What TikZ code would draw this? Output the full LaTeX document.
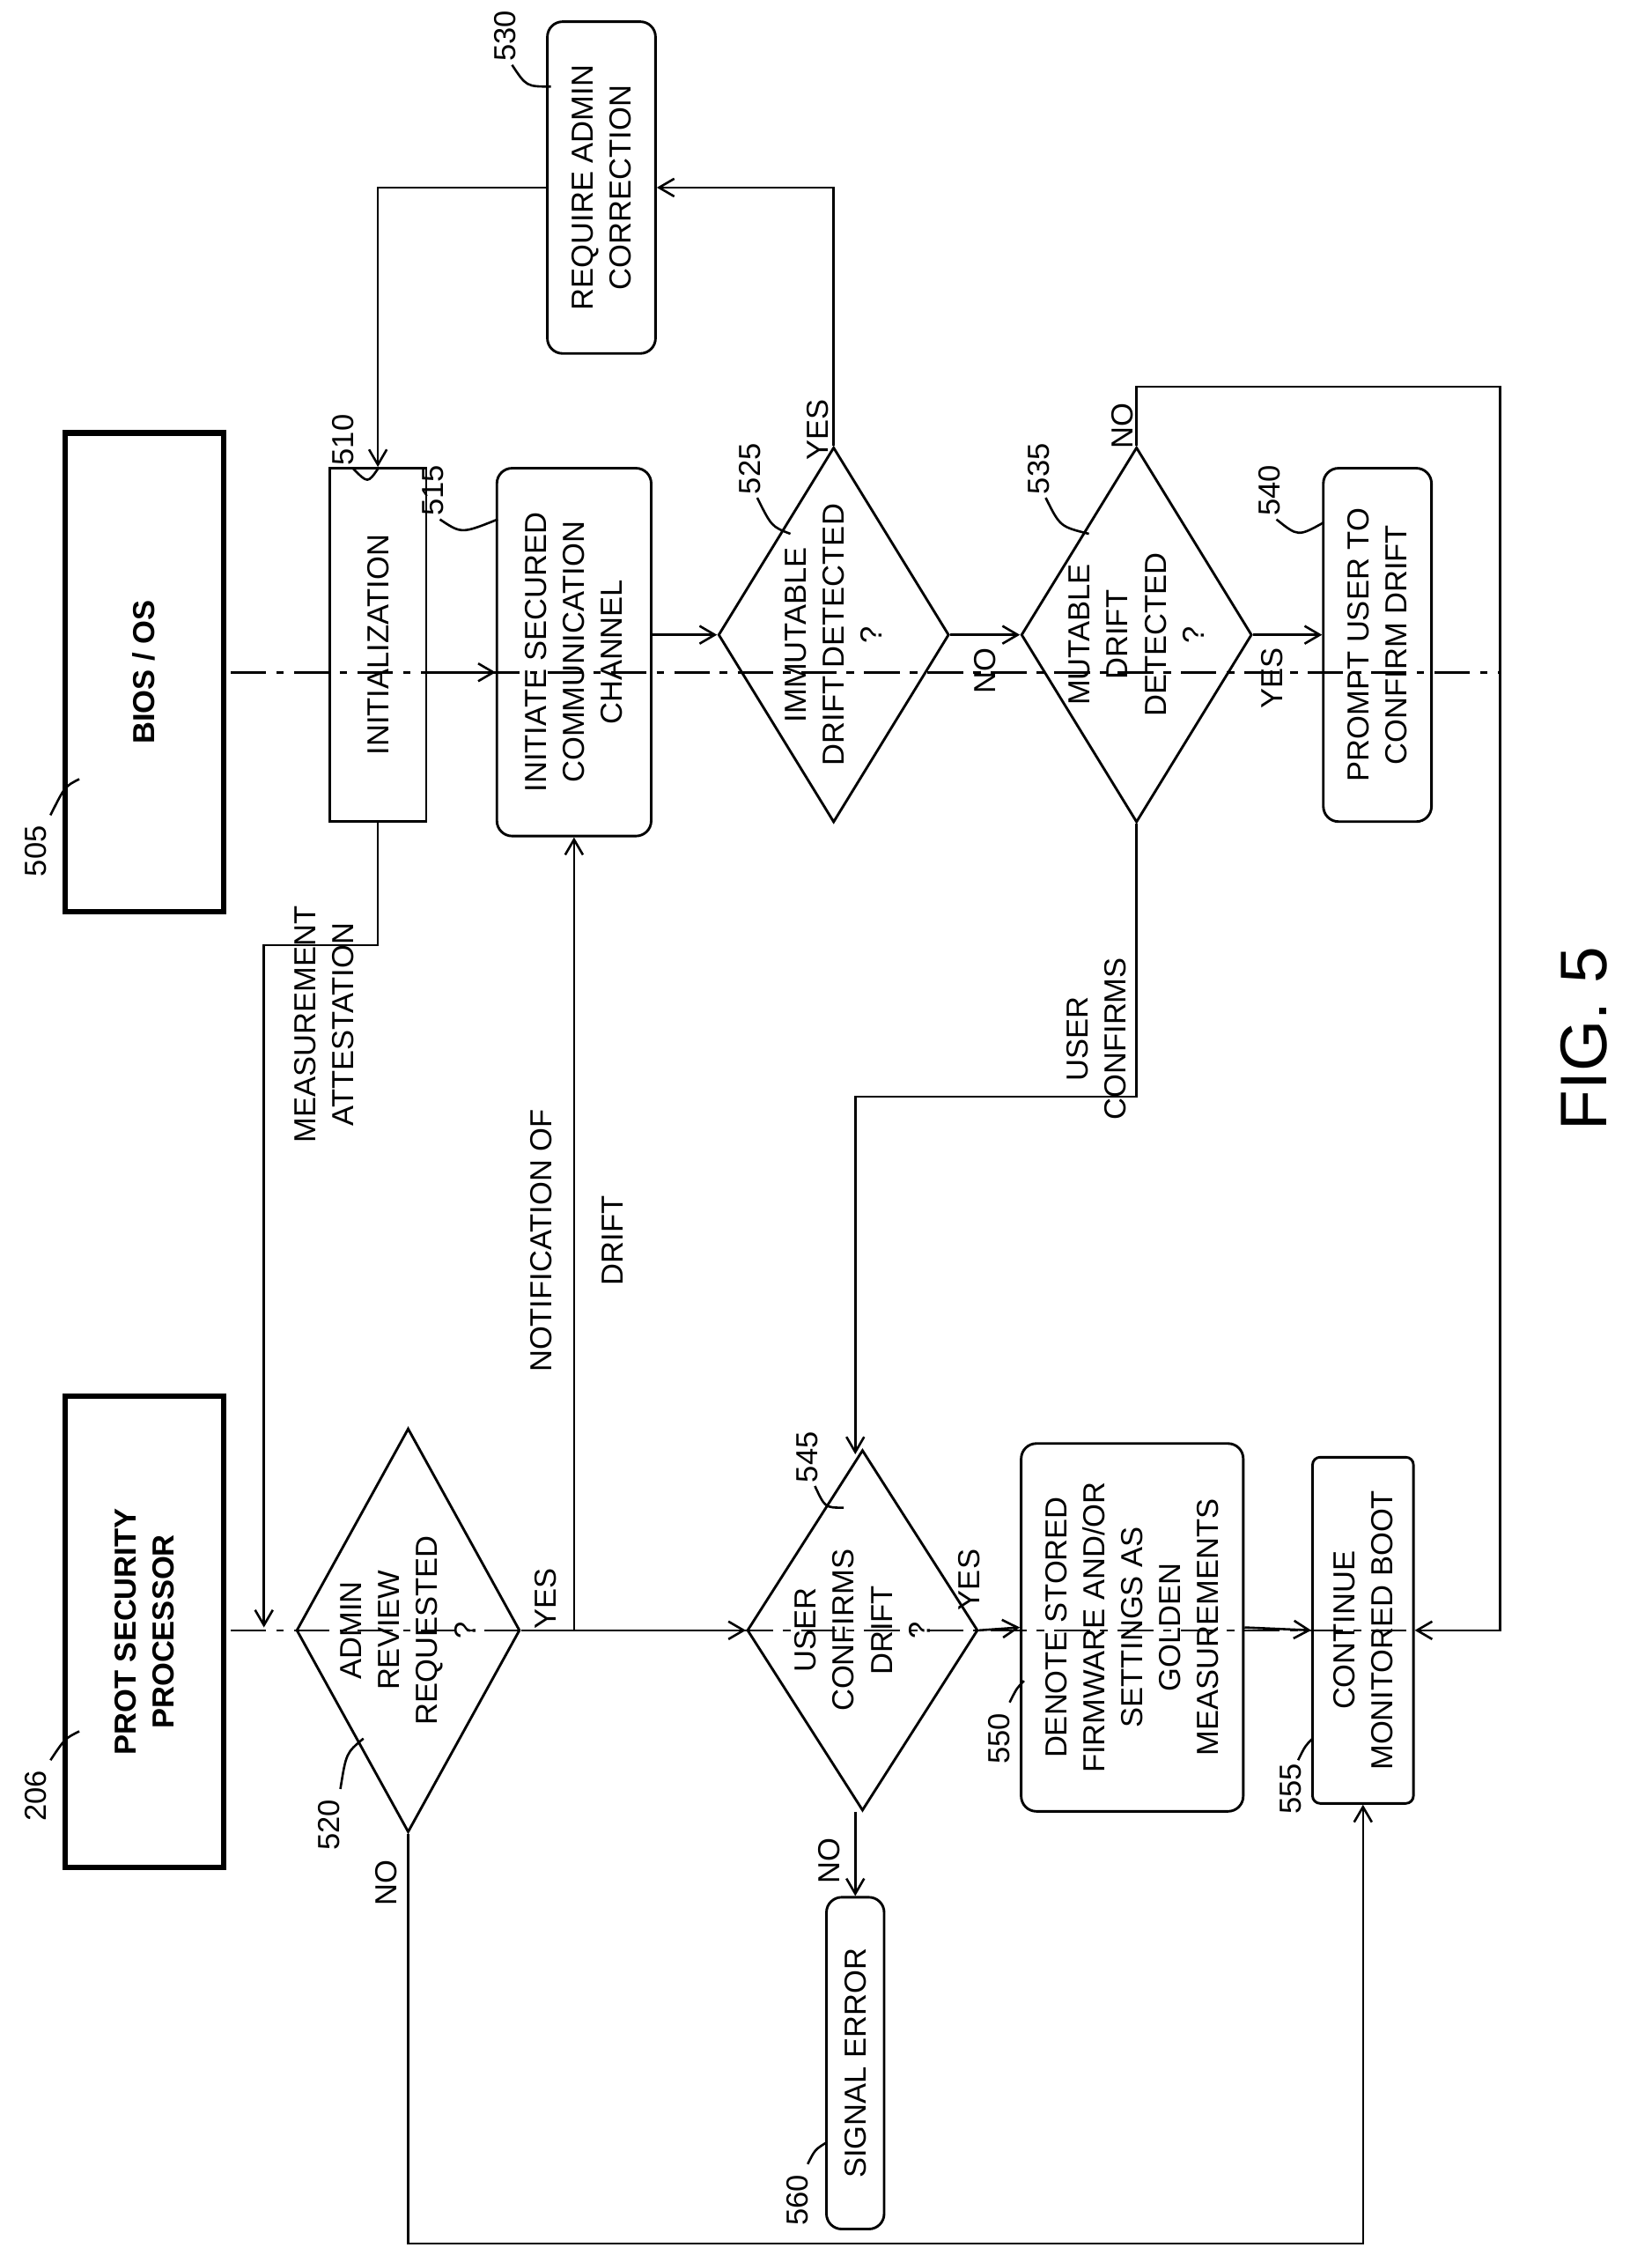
\documentclass[tikz,border=0pt]{standalone}
\usepackage{fontspec}
\setmainfont{Liberation Sans}
\usetikzlibrary{shapes.geometric,arrows.meta}
\begin{document}
\begin{tikzpicture}[x=0.02cm,y=-0.02cm,
 every node/.style={font=\fontsize{12}{15}\selectfont,align=center,rotate=90,inner sep=1pt},
 box/.style={draw,line width=1pt,rectangle,rounded corners=6pt},
 sq/.style={draw,line width=1pt,rectangle},
 dia/.style={draw,line width=1pt,diamond,aspect=1.6,inner sep=-12pt},
 arr/.style={line width=0.9pt,-{Straight Barb[length=6pt,width=7pt]}},
 ln/.style={line width=0.9pt},
 life/.style={line width=0.9pt,dash pattern=on 14pt off 4pt on 3pt off 4pt},
 num/.style={font=\fontsize{12}{15}\selectfont}]
\useasboundingbox (0,0) rectangle (1145,1563);
% lifelines
\draw[life] (160,466) -- (1040,466);
\draw[life] (160,1130) -- (1040,1130);
% top boxes
\node[sq,line width=2.2pt,minimum width=6.64cm,minimum height=2.2cm,font=\bfseries\fontsize{12}{15}\selectfont] (bios) at (100,466) {BIOS / OS};
\node[sq,line width=2.2pt,minimum width=6.54cm,minimum height=2.2cm,font=\bfseries\fontsize{12}{15}\selectfont] (prot) at (100,1131) {PROT SECURITY\\PROCESSOR};
\node[num] (n505) at (25,590) {505}; \draw[ln] (35,565) .. controls (45,545) .. (55,540);
\node[num] (n206) at (25,1245) {206}; \draw[ln] (35,1220) .. controls (45,1205) .. (55,1200);
% nodes
\node[sq,minimum width=4.9cm,minimum height=1.34cm] (init) at (262,447) {INITIALIZATION};
\node[box,minimum width=5.1cm,minimum height=2.14cm] (s515) at (398,452) {INITIATE SECURED\\COMMUNICATION\\CHANNEL};
\node[dia,minimum width=5.2cm,minimum height=3.2cm] (d525) at (578,440) {IMMUTABLE\\DRIFT DETECTED\\?};
\node[box,minimum width=4.6cm,minimum height=1.5cm] (s530) at (417,130) {REQUIRE ADMIN\\CORRECTION};
\node[dia,minimum width=5.2cm,minimum height=3.2cm] (d535) at (788,440) {MUTABLE\\DRIFT\\DETECTED\\?};
\node[box,minimum width=4.9cm,minimum height=1.5cm] (s540) at (955,447) {PROMPT USER TO\\CONFIRM DRIFT};
\node[dia,minimum width=5.6cm,minimum height=3.1cm] (d520) at (283,1130) {ADMIN\\REVIEW\\REQUESTED\\?};
\node[dia,minimum width=5.0cm,minimum height=3.2cm] (d545) at (598,1130) {USER\\CONFIRMS\\DRIFT\\?};
\node[box,minimum width=5.1cm,minimum height=3.08cm] (s550) at (785,1128) {DENOTE STORED\\FIRMWARE AND/OR\\SETTINGS AS\\GOLDEN\\MEASUREMENTS};
\node[sq,rounded corners=3pt,minimum width=4.8cm,minimum height=1.4cm] (s555) at (945,1130) {CONTINUE\\MONITORED BOOT};
\node[box,minimum width=4.6cm,minimum height=0.8cm] (s560) at (593,1430) {SIGNAL ERROR};
% numbers
\node[num] at (238,305) {510}; \draw[ln] (245,325) .. controls (255,335) .. (262,325);
\node[num] at (300,340) {515}; \draw[ln] (305,360) .. controls (320,370) .. (345,360);
\node[num] at (520,325) {525}; \draw[ln] (525,345) .. controls (535,365) .. (548,370);
\node[num] at (350,25) {530}; \draw[ln] (355,45) .. controls (365,60) .. (382,60);
\node[num] at (720,325) {535}; \draw[ln] (725,345) .. controls (735,365) .. (755,370);
\node[num] at (880,340) {540}; \draw[ln] (885,360) .. controls (900,372) .. (918,362);
\node[num] at (228,1265) {520}; \draw[ln] (236,1240) .. controls (240,1215) .. (252,1205);
\node[num] at (560,1010) {545}; \draw[ln] (565,1030) .. controls (572,1045) .. (585,1045);
\node[num] at (693,1205) {550}; \draw[ln] (700,1180) .. controls (705,1170) .. (710,1165);
\node[num] at (895,1240) {555}; \draw[ln] (900,1220) .. controls (905,1210) .. (910,1205);
\node[num] at (553,1525) {560}; \draw[ln] (560,1500) .. controls (565,1490) .. (573,1485);
% yes/no
\node[num] at (567,298) {YES}; \node[num] at (683,465) {NO};
\node[num] at (778,295) {NO}; \node[num] at (882,470) {YES};
\node[num] at (378,1108) {YES}; \node[num] at (268,1305) {NO};
\node[num] at (672,1095) {YES}; \node[num] at (575,1290) {NO};
% connectors
\draw[arr] (init.south|-0,466) -- (s515.north|-0,466);
\draw[arr] (s515.south|-0,440) -- (d525.north);
\draw[arr] (d525.south) -- (d535.north);
\draw[arr] (d535.south) -- (s540.north|-0,440);
\draw[arr] (d525.east) |- (s530.south);
\draw[arr] (s530.north) -| (init.east);
\draw[arr] (init.west) |- (183,655) -- (183,1128);
\node[num] at (225,710) {MEASUREMENT\\ATTESTATION};
\draw[arr] (d520.south) -- (398,1130) -- (s515.west-|398,0);
\node[num] at (375,860) {NOTIFICATION OF};
\node[num] at (425,860) {DRIFT};
\draw[arr] (398,1130) -- (d545.north);
\draw[arr] (d535.west) -- (788,760) -- (593,760) -- (593,1008);
\node[num] at (760,720) {USER\\CONFIRMS};
\draw[arr] (d535.east) |- (1040,268) |- (s555.south);
\draw[arr] (d545.south) -- (s550.north);
\draw[arr] (s550.south) -- (s555.north);
\draw[arr] (d545.west-|593,0) -- (s560.east);
\draw[arr] (d520.west) |- (945,1555) -- (s555.west);
\node[font=\fontsize{26}{30}\selectfont] at (1098,720) {FIG. 5};
\end{tikzpicture}
\end{document}
